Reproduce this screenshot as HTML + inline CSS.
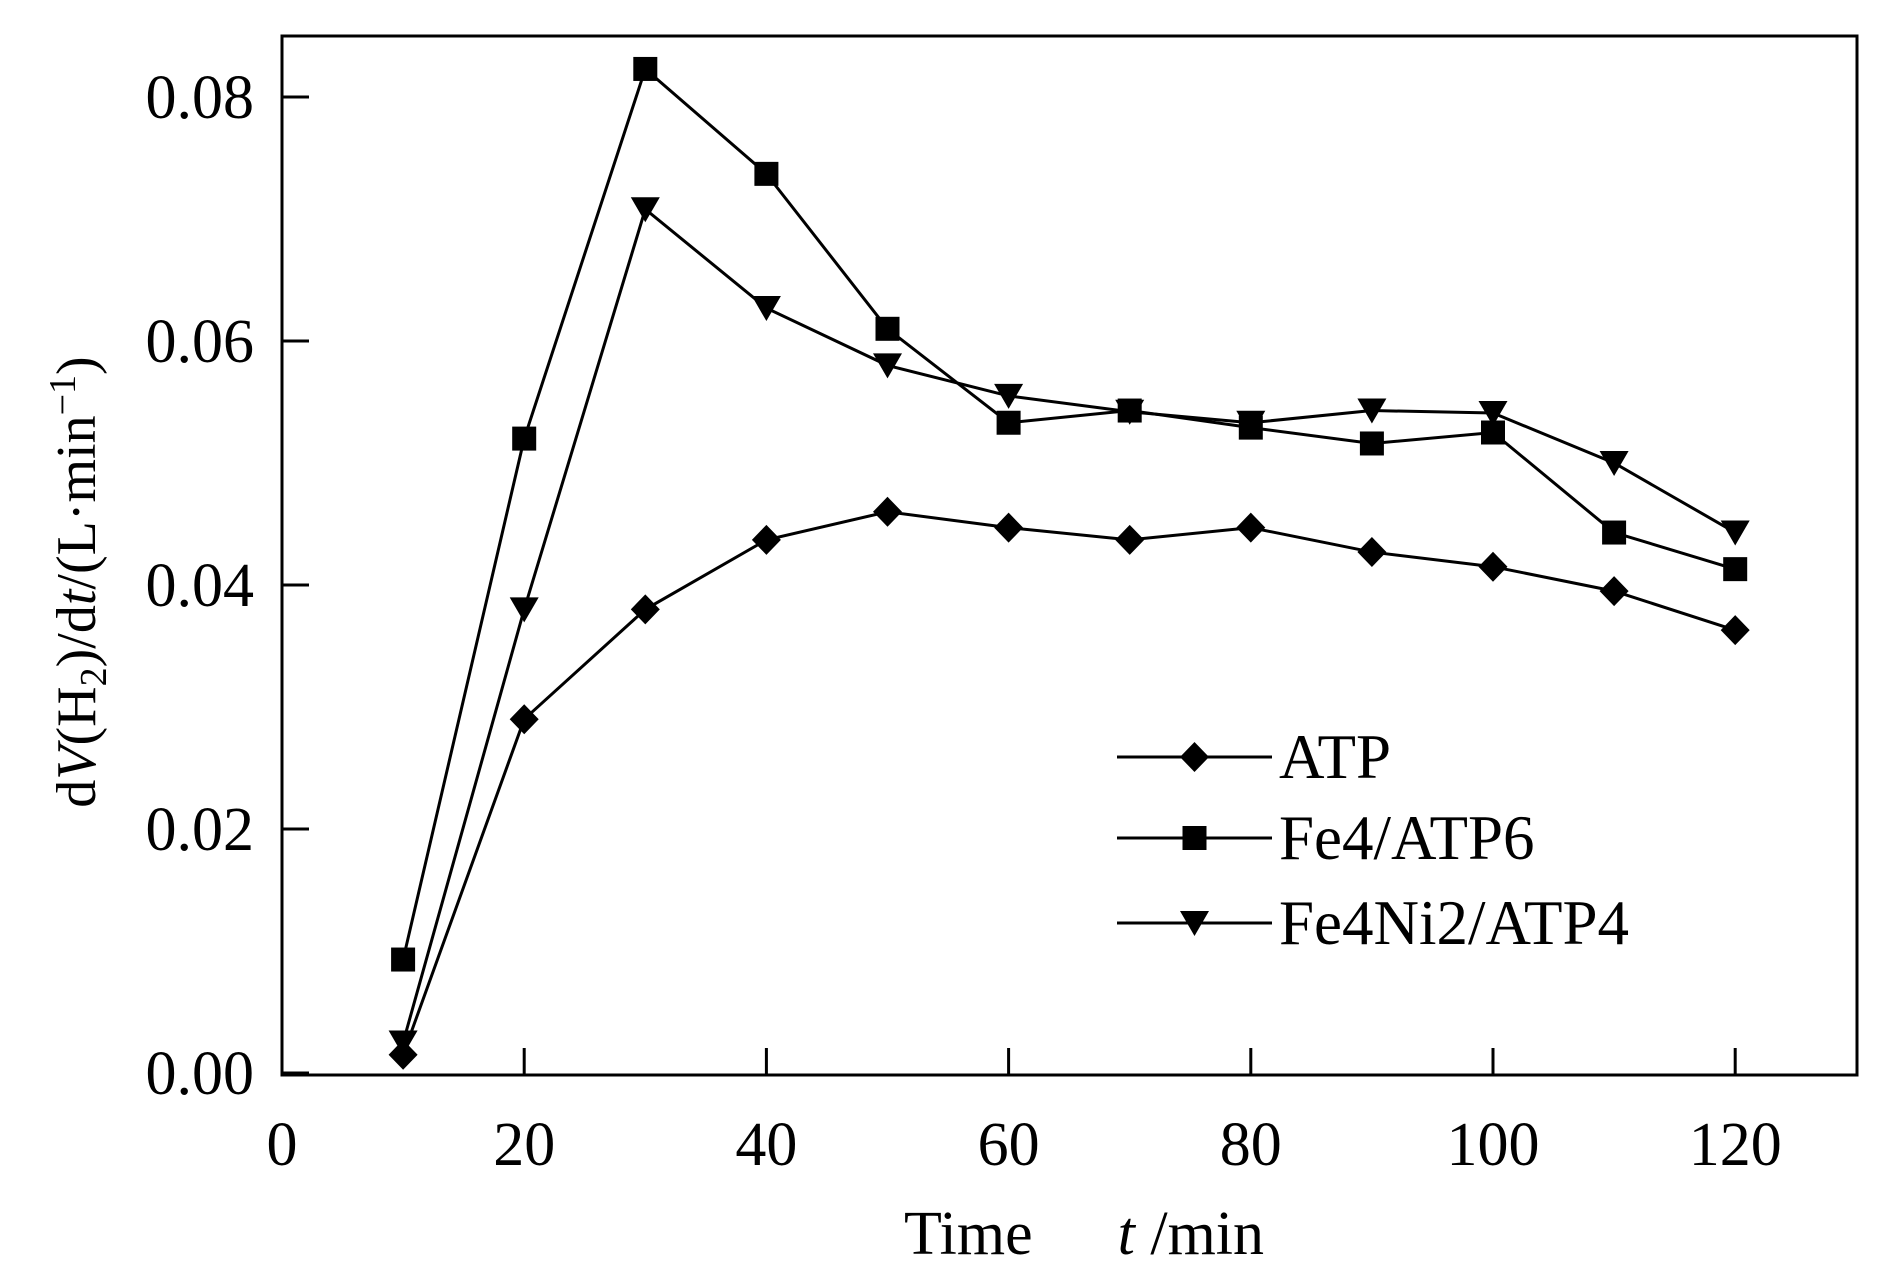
<!DOCTYPE html>
<html><head><meta charset="utf-8"><style>
html,body{margin:0;padding:0;background:#fff}
svg{display:block;font-family:"Liberation Serif",serif}
</style></head><body>
<svg id="chart" width="1890" height="1276" viewBox="0 0 1890 1276">
<rect x="282" y="36" width="1575" height="1039" fill="none" stroke="#000" stroke-width="3"/>
<g id="ticks"></g>
<g id="series"></g>
<g>
<line x1="1117" y1="757" x2="1272" y2="757" stroke="#000" stroke-width="3"/>
<path d="M1194.5 742 L1209 757 L1194.5 772 L1180 757 Z" fill="#000"/>
<text x="1279" y="778" font-size="63">ATP</text>
<line x1="1117" y1="838" x2="1272" y2="838" stroke="#000" stroke-width="3"/>
<rect x="1182.5" y="826" width="24" height="24" fill="#000"/>
<text x="1279" y="859" font-size="63">Fe4/ATP6</text>
<line x1="1117" y1="923" x2="1272" y2="923" stroke="#000" stroke-width="3"/>
<path d="M1180 911 L1209 911 L1194.5 936 Z" fill="#000"/>
<text x="1279" y="944" font-size="63">Fe4Ni2/ATP4</text>
</g>
<text x="1084" y="1254" font-size="62" text-anchor="middle">Time<tspan dx="85" font-style="italic">t</tspan> /min</text>
<text transform="translate(95,582) rotate(-90)" font-size="56" text-anchor="middle">d<tspan font-style="italic">V</tspan>(H<tspan font-size="38" dy="11">2</tspan><tspan dy="-11">)/d</tspan><tspan font-style="italic">t</tspan>/(L·min<tspan font-size="38" dy="-20">−1</tspan><tspan dy="20">)</tspan></text>
</svg>
<script>
const times=[10,20,30,40,50,60,70,80,90,100,110,120];
const atp=[0.0015,0.029,0.038,0.0437,0.046,0.0447,0.0437,0.0447,0.0427,0.0415,0.0395,0.0363];
const fe4=[0.0093,0.052,0.0823,0.0737,0.061,0.0533,0.0543,0.0529,0.0516,0.0525,0.0443,0.0413];
const fe4ni2=[0.0025,0.038,0.0708,0.0627,0.058,0.0555,0.0542,0.0533,0.0543,0.0541,0.05,0.0443];
const xTicks=[0,20,40,60,80,100,120];
const yTicks=[0,0.02,0.04,0.06,0.08];
const yLabels=["0.00","0.02","0.04","0.06","0.08"];
const NS="http://www.w3.org/2000/svg";
function X(v){return 282+v*12.11;}
function Y(v){return 1073-v*12200;}
const tg=document.getElementById('ticks');
function mk(tag,attrs,parent){const e=document.createElementNS(NS,tag);for(const k in attrs)e.setAttribute(k,attrs[k]);parent.appendChild(e);return e;}
xTicks.forEach(t=>{
 const l=mk('line',{x1:X(t),x2:X(t),y1:1075,y2:1048,stroke:'#000','stroke-width':3},tg);
 
 
 const tx=mk('text',{x:X(t),y:1165,'font-size':62,'text-anchor':'middle'},tg);
 tx.textContent=t;
 
 
});
yTicks.forEach((t,i)=>{
 const l=mk('line',{x1:282,x2:309,y1:Y(t),y2:Y(t),stroke:'#000','stroke-width':3},tg);
 
 
 const tx=mk('text',{x:254,y:Y(t)+21,'font-size':62,'text-anchor':'end'},tg);
 tx.textContent=yLabels[i];
 
 
});
const sg=document.getElementById('series');
function draw(vals,kind,name){
 const g=mk('g',{},sg);
 
 
 const pl=mk('polyline',{points:times.map((t,i)=>X(t)+','+Y(vals[i])).join(' '),fill:'none',stroke:'#000','stroke-width':3},g);
 
 
 times.forEach((t,i)=>{
  const x=X(t),y=Y(vals[i]);let m;
  if(kind==='d')m=mk('path',{d:`M${x} ${y-15}L${x+14.5} ${y}L${x} ${y+15}L${x-14.5} ${y}Z`,fill:'#000'},g);
  else if(kind==='s')m=mk('rect',{x:x-12,y:y-12,width:24,height:24,fill:'#000'},g);
  else m=mk('path',{d:`M${x-14.5} ${y-12}L${x+14.5} ${y-12}L${x} ${y+13}Z`,fill:'#000'},g);
  
  
 });
}
draw(atp,'d','series-atp');
draw(fe4,'s','series-fe4-atp6');
draw(fe4ni2,'t','series-fe4ni2-atp4');
</script>
</body></html>
